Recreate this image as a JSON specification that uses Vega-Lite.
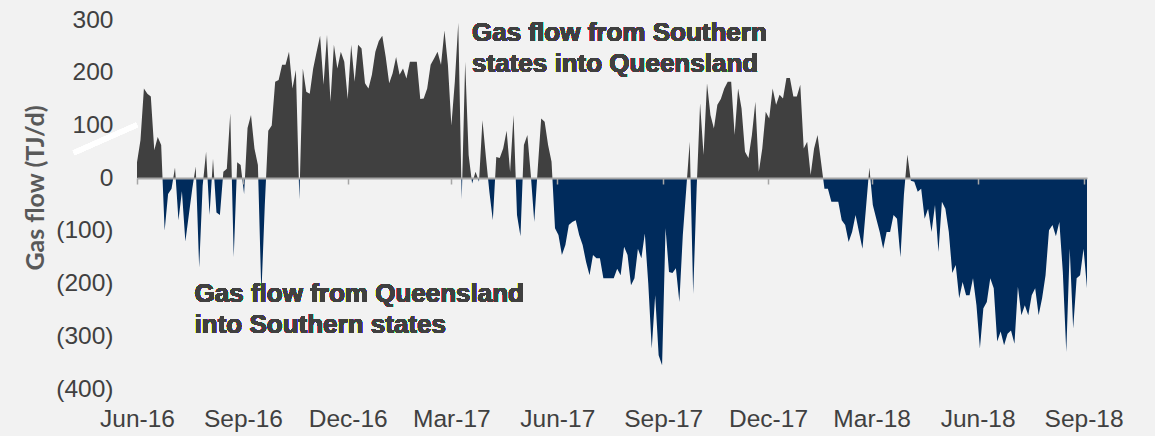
{
  "$schema": "https://vega.github.io/schema/vega-lite/v6.json",
  "width": 950,
  "height": 369,
  "autosize": {"type": "none"},
  "padding": {"left": 137, "top": 20, "right": 68, "bottom": 47},
  "background": "#f2f2f2",
  "config": {"view": {"stroke": null}, "font": "Liberation Sans"},
  "data": {"values": [
    {"date": "2016-06-01", "flow": 30}, {"date": "2016-06-04", "flow": 72}, {"date": "2016-06-07", "flow": 170}, {"date": "2016-06-10", "flow": 160},
    {"date": "2016-06-13", "flow": 155}, {"date": "2016-06-16", "flow": 53}, {"date": "2016-06-19", "flow": 78}, {"date": "2016-06-22", "flow": 63},
    {"date": "2016-06-25", "flow": -100}, {"date": "2016-06-28", "flow": -30}, {"date": "2016-07-01", "flow": -20}, {"date": "2016-07-04", "flow": 20},
    {"date": "2016-07-07", "flow": -80}, {"date": "2016-07-10", "flow": -25}, {"date": "2016-07-13", "flow": -120}, {"date": "2016-07-16", "flow": -70},
    {"date": "2016-07-19", "flow": -20}, {"date": "2016-07-22", "flow": 22}, {"date": "2016-07-25", "flow": -170}, {"date": "2016-07-28", "flow": -15},
    {"date": "2016-07-31", "flow": 50}, {"date": "2016-08-03", "flow": -70}, {"date": "2016-08-06", "flow": 37}, {"date": "2016-08-09", "flow": -65},
    {"date": "2016-08-12", "flow": -70}, {"date": "2016-08-15", "flow": 12}, {"date": "2016-08-18", "flow": 18}, {"date": "2016-08-21", "flow": 123},
    {"date": "2016-08-24", "flow": -150}, {"date": "2016-08-27", "flow": 30}, {"date": "2016-08-30", "flow": 25}, {"date": "2016-09-02", "flow": -30},
    {"date": "2016-09-05", "flow": 95}, {"date": "2016-09-08", "flow": 120}, {"date": "2016-09-11", "flow": 56}, {"date": "2016-09-14", "flow": 25},
    {"date": "2016-09-17", "flow": -220}, {"date": "2016-09-20", "flow": -50}, {"date": "2016-09-23", "flow": 90}, {"date": "2016-09-26", "flow": 100},
    {"date": "2016-09-29", "flow": 183}, {"date": "2016-10-02", "flow": 186}, {"date": "2016-10-05", "flow": 215}, {"date": "2016-10-08", "flow": 215},
    {"date": "2016-10-11", "flow": 240}, {"date": "2016-10-14", "flow": 170}, {"date": "2016-10-17", "flow": 205}, {"date": "2016-10-20", "flow": -40},
    {"date": "2016-10-23", "flow": 208}, {"date": "2016-10-26", "flow": 164}, {"date": "2016-10-29", "flow": 160}, {"date": "2016-11-01", "flow": 208},
    {"date": "2016-11-04", "flow": 240}, {"date": "2016-11-07", "flow": 270}, {"date": "2016-11-10", "flow": 177}, {"date": "2016-11-13", "flow": 272},
    {"date": "2016-11-16", "flow": 145}, {"date": "2016-11-19", "flow": 253}, {"date": "2016-11-22", "flow": 208}, {"date": "2016-11-25", "flow": 240},
    {"date": "2016-11-28", "flow": 221}, {"date": "2016-12-01", "flow": 150}, {"date": "2016-12-04", "flow": 253}, {"date": "2016-12-07", "flow": 183},
    {"date": "2016-12-10", "flow": 253}, {"date": "2016-12-13", "flow": 246}, {"date": "2016-12-16", "flow": 180}, {"date": "2016-12-19", "flow": 170},
    {"date": "2016-12-22", "flow": 196}, {"date": "2016-12-25", "flow": 240}, {"date": "2016-12-28", "flow": 260}, {"date": "2016-12-31", "flow": 270},
    {"date": "2017-01-03", "flow": 230}, {"date": "2017-01-06", "flow": 180}, {"date": "2017-01-09", "flow": 199}, {"date": "2017-01-12", "flow": 230},
    {"date": "2017-01-15", "flow": 196}, {"date": "2017-01-18", "flow": 208}, {"date": "2017-01-21", "flow": 189}, {"date": "2017-01-24", "flow": 221},
    {"date": "2017-01-27", "flow": 221}, {"date": "2017-01-30", "flow": 221}, {"date": "2017-02-02", "flow": 150}, {"date": "2017-02-05", "flow": 151},
    {"date": "2017-02-08", "flow": 170}, {"date": "2017-02-11", "flow": 215}, {"date": "2017-02-14", "flow": 227}, {"date": "2017-02-17", "flow": 240},
    {"date": "2017-02-20", "flow": 215}, {"date": "2017-02-23", "flow": 280}, {"date": "2017-02-26", "flow": 215}, {"date": "2017-03-01", "flow": 100},
    {"date": "2017-03-04", "flow": 183}, {"date": "2017-03-07", "flow": 295}, {"date": "2017-03-10", "flow": -40}, {"date": "2017-03-13", "flow": 221},
    {"date": "2017-03-16", "flow": 44}, {"date": "2017-03-19", "flow": -10}, {"date": "2017-03-22", "flow": 12}, {"date": "2017-03-25", "flow": -7},
    {"date": "2017-03-28", "flow": 110}, {"date": "2017-03-31", "flow": 40}, {"date": "2017-04-03", "flow": -26}, {"date": "2017-04-06", "flow": -80},
    {"date": "2017-04-09", "flow": 40}, {"date": "2017-04-12", "flow": 38}, {"date": "2017-04-15", "flow": 56}, {"date": "2017-04-18", "flow": 90},
    {"date": "2017-04-21", "flow": 12}, {"date": "2017-04-24", "flow": 120}, {"date": "2017-04-27", "flow": -70}, {"date": "2017-04-30", "flow": -110},
    {"date": "2017-05-03", "flow": 63}, {"date": "2017-05-06", "flow": 82}, {"date": "2017-05-09", "flow": 6}, {"date": "2017-05-12", "flow": -83},
    {"date": "2017-05-15", "flow": 18}, {"date": "2017-05-18", "flow": 113}, {"date": "2017-05-21", "flow": 107}, {"date": "2017-05-24", "flow": 63},
    {"date": "2017-05-27", "flow": 31}, {"date": "2017-05-30", "flow": -95}, {"date": "2017-06-02", "flow": -108}, {"date": "2017-06-05", "flow": -146},
    {"date": "2017-06-08", "flow": -127}, {"date": "2017-06-11", "flow": -89}, {"date": "2017-06-14", "flow": -83}, {"date": "2017-06-17", "flow": -80},
    {"date": "2017-06-20", "flow": -108}, {"date": "2017-06-23", "flow": -127}, {"date": "2017-06-26", "flow": -159}, {"date": "2017-06-29", "flow": -184},
    {"date": "2017-07-02", "flow": -146}, {"date": "2017-07-05", "flow": -152}, {"date": "2017-07-08", "flow": -152}, {"date": "2017-07-11", "flow": -190},
    {"date": "2017-07-14", "flow": -190}, {"date": "2017-07-17", "flow": -190}, {"date": "2017-07-20", "flow": -190}, {"date": "2017-07-23", "flow": -172},
    {"date": "2017-07-26", "flow": -184}, {"date": "2017-07-29", "flow": -130}, {"date": "2017-08-01", "flow": -146}, {"date": "2017-08-04", "flow": -203},
    {"date": "2017-08-07", "flow": -190}, {"date": "2017-08-10", "flow": -134}, {"date": "2017-08-13", "flow": -152}, {"date": "2017-08-16", "flow": -105},
    {"date": "2017-08-19", "flow": -200}, {"date": "2017-08-22", "flow": -323}, {"date": "2017-08-25", "flow": -222}, {"date": "2017-08-28", "flow": -336},
    {"date": "2017-08-31", "flow": -355}, {"date": "2017-09-03", "flow": -95}, {"date": "2017-09-06", "flow": -178}, {"date": "2017-09-09", "flow": -180},
    {"date": "2017-09-12", "flow": -171}, {"date": "2017-09-15", "flow": -235}, {"date": "2017-09-18", "flow": -108}, {"date": "2017-09-21", "flow": -20},
    {"date": "2017-09-24", "flow": 69}, {"date": "2017-09-27", "flow": -220}, {"date": "2017-09-30", "flow": -20}, {"date": "2017-10-03", "flow": 142},
    {"date": "2017-10-06", "flow": 44}, {"date": "2017-10-09", "flow": 180}, {"date": "2017-10-12", "flow": 120}, {"date": "2017-10-15", "flow": 94},
    {"date": "2017-10-18", "flow": 139}, {"date": "2017-10-21", "flow": 150}, {"date": "2017-10-24", "flow": 170}, {"date": "2017-10-27", "flow": 183},
    {"date": "2017-10-30", "flow": 183}, {"date": "2017-11-02", "flow": 82}, {"date": "2017-11-05", "flow": 170}, {"date": "2017-11-08", "flow": 132},
    {"date": "2017-11-11", "flow": 50}, {"date": "2017-11-14", "flow": 38}, {"date": "2017-11-17", "flow": 82}, {"date": "2017-11-20", "flow": 145},
    {"date": "2017-11-23", "flow": 12}, {"date": "2017-11-26", "flow": 56}, {"date": "2017-11-29", "flow": 126}, {"date": "2017-12-02", "flow": 113},
    {"date": "2017-12-05", "flow": 170}, {"date": "2017-12-08", "flow": 139}, {"date": "2017-12-11", "flow": 158}, {"date": "2017-12-14", "flow": 151},
    {"date": "2017-12-17", "flow": 190}, {"date": "2017-12-20", "flow": 190}, {"date": "2017-12-23", "flow": 155}, {"date": "2017-12-26", "flow": 155},
    {"date": "2017-12-29", "flow": 177}, {"date": "2018-01-01", "flow": 56}, {"date": "2018-01-04", "flow": 69}, {"date": "2018-01-07", "flow": 6},
    {"date": "2018-01-10", "flow": 56}, {"date": "2018-01-13", "flow": 82}, {"date": "2018-01-16", "flow": 31}, {"date": "2018-01-19", "flow": -20},
    {"date": "2018-01-22", "flow": -20}, {"date": "2018-01-25", "flow": -45}, {"date": "2018-01-28", "flow": -45}, {"date": "2018-01-31", "flow": -45},
    {"date": "2018-02-03", "flow": -80}, {"date": "2018-02-06", "flow": -89}, {"date": "2018-02-09", "flow": -121}, {"date": "2018-02-12", "flow": -102},
    {"date": "2018-02-15", "flow": -70}, {"date": "2018-02-18", "flow": -102}, {"date": "2018-02-21", "flow": -134}, {"date": "2018-02-24", "flow": -58},
    {"date": "2018-02-27", "flow": 20}, {"date": "2018-03-02", "flow": -51}, {"date": "2018-03-05", "flow": -77}, {"date": "2018-03-08", "flow": -102},
    {"date": "2018-03-11", "flow": -134}, {"date": "2018-03-14", "flow": -102}, {"date": "2018-03-17", "flow": -102}, {"date": "2018-03-20", "flow": -70},
    {"date": "2018-03-23", "flow": -77}, {"date": "2018-03-26", "flow": -150}, {"date": "2018-03-29", "flow": -32}, {"date": "2018-04-01", "flow": 45},
    {"date": "2018-04-04", "flow": -5}, {"date": "2018-04-07", "flow": -7}, {"date": "2018-04-10", "flow": -26}, {"date": "2018-04-13", "flow": -20},
    {"date": "2018-04-16", "flow": -77}, {"date": "2018-04-19", "flow": -58}, {"date": "2018-04-22", "flow": -102}, {"date": "2018-04-25", "flow": -51},
    {"date": "2018-04-28", "flow": -140}, {"date": "2018-05-01", "flow": -45}, {"date": "2018-05-04", "flow": -58}, {"date": "2018-05-07", "flow": -102},
    {"date": "2018-05-10", "flow": -180}, {"date": "2018-05-13", "flow": -165}, {"date": "2018-05-16", "flow": -228}, {"date": "2018-05-19", "flow": -197},
    {"date": "2018-05-22", "flow": -222}, {"date": "2018-05-25", "flow": -222}, {"date": "2018-05-28", "flow": -190}, {"date": "2018-05-31", "flow": -241},
    {"date": "2018-06-03", "flow": -323}, {"date": "2018-06-06", "flow": -247}, {"date": "2018-06-09", "flow": -235}, {"date": "2018-06-12", "flow": -190},
    {"date": "2018-06-15", "flow": -209}, {"date": "2018-06-18", "flow": -310}, {"date": "2018-06-21", "flow": -291}, {"date": "2018-06-24", "flow": -317},
    {"date": "2018-06-27", "flow": -295}, {"date": "2018-06-30", "flow": -289}, {"date": "2018-07-03", "flow": -314}, {"date": "2018-07-06", "flow": -206},
    {"date": "2018-07-09", "flow": -260}, {"date": "2018-07-12", "flow": -241}, {"date": "2018-07-15", "flow": -260}, {"date": "2018-07-18", "flow": -222},
    {"date": "2018-07-21", "flow": -209}, {"date": "2018-07-24", "flow": -260}, {"date": "2018-07-27", "flow": -228}, {"date": "2018-07-30", "flow": -184},
    {"date": "2018-08-02", "flow": -99}, {"date": "2018-08-05", "flow": -89}, {"date": "2018-08-08", "flow": -110}, {"date": "2018-08-11", "flow": -83},
    {"date": "2018-08-14", "flow": -178}, {"date": "2018-08-17", "flow": -330}, {"date": "2018-08-20", "flow": -134}, {"date": "2018-08-23", "flow": -285},
    {"date": "2018-08-26", "flow": -190}, {"date": "2018-08-29", "flow": -184}, {"date": "2018-09-01", "flow": -134}, {"date": "2018-09-04", "flow": -209}
  ]},
  "layer": [
    {
      "mark": {
        "type": "area",
        "interpolate": "linear",
        "fill": {
          "gradient": "linear", "x1": 0, "y1": 0, "x2": 0, "y2": 1,
          "stops": [
            {"offset": 0, "color": "#404040"},
            {"offset": 0.4538, "color": "#404040"},
            {"offset": 0.4538, "color": "#002b5c"},
            {"offset": 1, "color": "#002b5c"}
          ]
        }
      },
      "encoding": {
        "x": {
          "field": "date", "type": "temporal",
          "scale": {"domain": [{"year": 2016, "month": 6, "date": 1}, {"year": 2018, "month": 9, "date": 4}]},
          "axis": {
            "values": [
              {"year": 2016, "month": 6, "date": 1}, {"year": 2016, "month": 9, "date": 1}, {"year": 2016, "month": 12, "date": 1},
              {"year": 2017, "month": 3, "date": 1}, {"year": 2017, "month": 6, "date": 1}, {"year": 2017, "month": 9, "date": 1},
              {"year": 2017, "month": 12, "date": 1}, {"year": 2018, "month": 3, "date": 1}, {"year": 2018, "month": 6, "date": 1},
              {"year": 2018, "month": 9, "date": 1}
            ],
            "format": "%b-%y",
            "title": null,
            "grid": false,
            "offset": -211,
            "domainColor": "#a6a6a6", "domainWidth": 2,
            "tickColor": "#a6a6a6", "tickSize": 6, "tickWidth": 1.5,
            "labelPadding": 223,
            "labelFont": "Liberation Sans", "labelFontSize": 24.5, "labelColor": "#404040",
            "labelFlush": false, "labelOverlap": false,
            "zindex": 1
          }
        },
        "y": {
          "field": "flow", "type": "quantitative",
          "scale": {"domain": [-400, 300], "nice": false, "zero": false},
          "axis": {
            "values": [-400, -300, -200, -100, 0, 100, 200, 300],
            "labelExpr": "datum.value < 0 ? '(' + format(-datum.value, 'd') + ')' : format(datum.value, 'd')",
            "grid": false, "domain": false, "ticks": false,
            "labelPadding": 24,
            "labelFont": "Liberation Sans", "labelFontSize": 24.5, "labelColor": "#404040",
            "labelBaseline": "middle",
            "title": "Gas flow (TJ/d)",
            "titleFont": "Lato", "titleFontSize": 25, "titleFontWeight": "bold", "titleColor": "#595959",
            "titleX": -102, "titleY": 167.5, "titleAngle": -90, "titleAlign": "center", "titleBaseline": "middle"
          }
        },
        "y2": {"datum": 0}
      }
    },
    {
      "mark": {"type": "rule", "color": "#ffffff", "strokeWidth": 5, "clip": false},
      "encoding": {
        "x": {"datum": {"year": 2016, "month": 4, "date": 7}, "type": "temporal"},
        "y": {"datum": 48},
        "x2": {"datum": {"year": 2016, "month": 6, "date": 1}},
        "y2": {"datum": 101}
      }
    },
    {
      "mark": {
        "type": "text",
        "text": ["Gas flow from Southern", "states into Queensland"],
        "align": "left", "baseline": "alphabetic", "lineHeight": 31,
        "font": "Liberation Sans", "fontSize": 26, "fontWeight": "bold", "color": "#404040"
      },
      "encoding": {
        "x": {"datum": {"year": 2017, "month": 3, "date": 19}, "type": "temporal"},
        "y": {"datum": 260}
      }
    },
    {
      "mark": {
        "type": "text",
        "text": ["Gas flow from Queensland", "into Southern states"],
        "align": "left", "baseline": "alphabetic", "lineHeight": 31,
        "font": "Liberation Sans", "fontSize": 26, "fontWeight": "bold", "color": "#404040"
      },
      "encoding": {
        "x": {"datum": {"year": 2016, "month": 7, "date": 21}, "type": "temporal"},
        "y": {"datum": -235}
      }
    }
  ]
}
